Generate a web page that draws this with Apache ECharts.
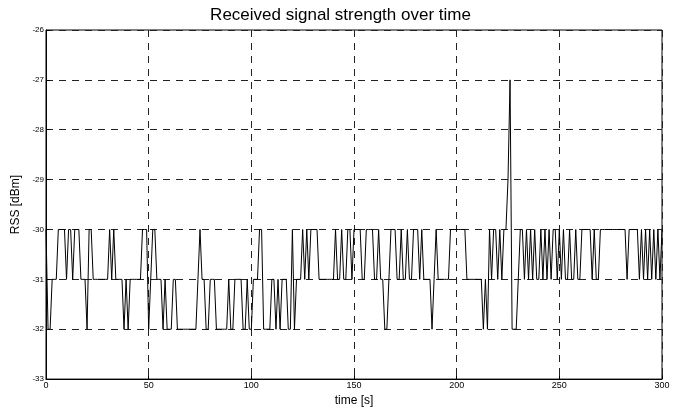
<!DOCTYPE html>
<html><head><meta charset="utf-8">
<script src="https://cdn.jsdelivr.net/npm/echarts@6/dist/echarts.min.js"></script>
<style>html,body{margin:0;padding:0;background:#fff}#c{width:681px;height:412px}</style>
</head><body><div id="c"></div>
<script>
const title = 'Received signal strength over time';
const xName = 'time [s]';
const yName = 'RSS [dBm]';
const xTicks = [0, 50, 100, 150, 200, 250, 300];
const yTicks = [-33, -32, -31, -30, -29, -28, -27, -26];
// RSS samples, one per second, t = 0..300
const rss0 = [-30,-32,-32,-31,-31,-31,-30,-30,-30,-30,-31,-30,-30,-31,-30,-30,-30,-31,-31,-31,
-32,-30,-30,-31,-31,-31,-31,-31,-31,-31,-31,-30,-31,-30,-31,-31,-31,-31,-32,-31,
-32,-31,-31,-31,-31,-31,-31,-30,-30,-30];
const rss1 = [-32,-31,-30,-30,-31,-31,-31,-32,-31,-32,-32,-32,-31,-31,-32,-32,-32,-32,-32,-32,
-32,-32,-32,-32,-31,-30,-31,-31,-32,-32,-31,-31,-31,-32,-32,-32,-32,-32,-32,-31,
-32,-32,-31,-31,-31,-31,-32,-32,-31,-32];
const rss2 = [-32,-31,-31,-31,-30,-30,-32,-32,-32,-32,-31,-31,-32,-31,-32,-31,-31,-31,-32,-32,
-30,-32,-31,-31,-31,-30,-31,-30,-31,-30,-30,-30,-30,-31,-31,-31,-31,-31,-31,-31,
-31,-30,-31,-31,-30,-31,-31,-30,-30,-31];
const rss3 = [-30,-30,-30,-30,-31,-31,-30,-30,-30,-30,-31,-31,-30,-31,-31,-32,-32,-31,-30,-30,
-30,-31,-31,-30,-31,-31,-30,-31,-31,-30,-30,-30,-31,-30,-31,-31,-31,-31,-32,-31,
-30,-31,-31,-31,-31,-31,-31,-30,-30,-30];
const rss4 = [-30,-30,-30,-30,-30,-31,-31,-31,-31,-31,-31,-31,-31,-32,-31,-32,-30,-31,-30,-30,
-31,-30,-31,-30,-30,-29,-27,-32,-32,-32,-31,-30,-30,-31,-30,-31,-30,-31,-30,-31,
-31,-30,-31,-30,-31,-30,-31,-30,-30,-31];
const rss5 = [-30,-31,-30,-31,-31,-30,-31,-31,-30,-31,-31,-30,-30,-30,-30,-30,-31,-30,-31,-31,
-30,-30,-30,-30,-30,-30,-30,-30,-30,-30,-30,-30,-30,-31,-30,-30,-30,-30,-30,-31,
-30,-31,-30,-31,-30,-31,-30,-31,-30,-31,-30];
const rss = [].concat(rss0, rss1, rss2, rss3, rss4, rss5);
const data = rss.map((v, i) => [i, v]);

const chart = echarts.init(document.getElementById('c'), null, {renderer: 'canvas'});
const dash = {color: '#222', type: [7, 6], width: 1};
chart.setOption({
  animation: false,
  backgroundColor: '#fff',
  title: {text: title, left: 'center', top: 2, textStyle: {fontFamily: 'Liberation Sans', fontSize: 17, fontWeight: 'normal', color: '#000'}},
  grid: {left: 46, right: 19, top: 30, bottom: 32, show: true, borderColor: '#000', borderWidth: 1},
  xAxis: {
    type: 'value', min: 0, max: 300, interval: 50,
    name: xName, nameLocation: 'middle', nameGap: 14,
    nameTextStyle: {fontFamily: 'Liberation Sans', fontSize: 12, color: '#000'},
    axisLine: {show: true, lineStyle: {color: '#000'}},
    axisTick: {show: true, inside: true, length: 4, lineStyle: {color: '#000'}},
    axisLabel: {fontFamily: 'Liberation Sans', fontSize: 9, color: '#000', margin: 2},
    splitLine: {show: true, lineStyle: dash}
  },
  yAxis: {
    type: 'value', min: -33, max: -26, interval: 1,
    name: yName, nameLocation: 'middle', nameGap: 24, nameRotate: 90,
    nameTextStyle: {fontFamily: 'Liberation Sans', fontSize: 12, color: '#000'},
    axisLine: {show: true, lineStyle: {color: '#000'}},
    axisTick: {show: true, inside: true, length: 4, lineStyle: {color: '#000'}},
    axisLabel: {fontFamily: 'Liberation Sans', fontSize: 8, color: '#000', margin: 2},
    splitLine: {show: true, lineStyle: dash}
  },
  series: [{
    type: 'line', data: data, showSymbol: false, symbol: 'none',
    lineStyle: {color: '#000', width: 1}, z: 5
  }]
});
</script></body></html>
